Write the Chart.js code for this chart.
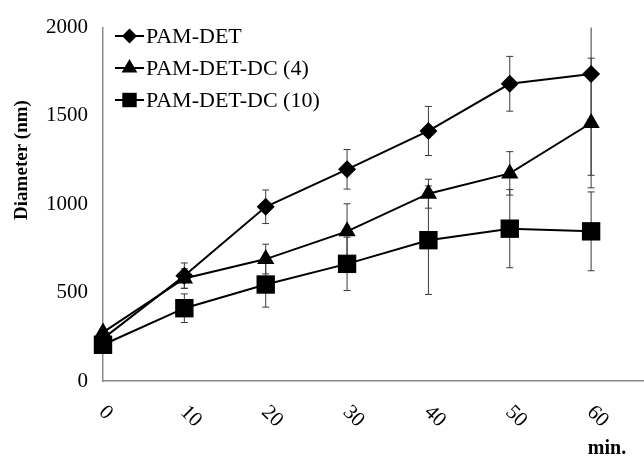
<!DOCTYPE html>
<html>
<head>
<meta charset="utf-8">
<script src="https://cdn.jsdelivr.net/npm/chart.js@4/dist/chart.umd.min.js"></script>
<style>
    html, body { margin: 0; padding: 0; background: #fff; overflow: hidden; }
    #wrap { width: 644px; height: 456px; position: relative; }
    #sizeChart { display: block; }
</style>
</head>
<body>
<div id="wrap"><canvas id="sizeChart"></canvas></div>
<script>
// time points (min.)
const times = [0, 10, 20, 30, 40, 50, 60];
const xTickLabels = ['0', '10', '20', '30', '40', '50', '60'];

// mean diameter (nm) and error bars
const pamDet = [240, 596, 986, 1198, 1415, 1682, 1738];
const pamDetErr = [20, 72, 95, 112, 139, 155, 574];

const pamDetDc4 = [275, 580, 690, 847, 1060, 1175, 1460];
const pamDetDc4Err = [20, 55, 84, 156, 82, 123, 367];

const pamDetDc10 = [205, 412, 546, 663, 797, 862, 847];
const pamDetDc10Err = [20, 81, 128, 151, 307, 221, 223];

const seriesNames = ['PAM-DET', 'PAM-DET-DC (4)', 'PAM-DET-DC (10)'];
const yTicks = [0, 500, 1000, 1500, 2000];

const serif = "'Liberation Serif', 'Times New Roman', serif";

function toPoints(values) {
    return values.map((v, i) => ({ x: times[i], y: v }));
}

function drawMarker(ctx, style, x, y, r) {
    ctx.beginPath();
    if (style === 'rectRot') {
        ctx.moveTo(x, y - r);
        ctx.lineTo(x + r, y);
        ctx.lineTo(x, y + r);
        ctx.lineTo(x - r, y);
    } else if (style === 'triangle') {
        ctx.moveTo(x, y - r);
        ctx.lineTo(x + r * 0.87, y + r * 0.5);
        ctx.lineTo(x - r * 0.87, y + r * 0.5);
    } else {
        ctx.rect(x - r * 0.72, y - r * 0.72, r * 1.44, r * 1.44);
    }
    ctx.closePath();
    ctx.fill();
}

const errors = [pamDetErr, pamDetDc4Err, pamDetDc10Err];

// error bars, drawn under the markers and clipped to the plot area
const errorBarPlugin = {
    id: 'errorBars',
    beforeDatasetsDraw(chart) {
        const ctx = chart.ctx;
        const area = chart.chartArea;
        const yScale = chart.scales.y;
        ctx.save();
        ctx.beginPath();
        ctx.rect(area.left - 20, area.top, area.right - area.left + 40, area.bottom - area.top);
        ctx.clip();
        ctx.strokeStyle = '#3a3a3a';
        ctx.lineWidth = 1;
        chart.data.datasets.forEach((ds, d) => {
            const meta = chart.getDatasetMeta(d);
            meta.data.forEach((pt, i) => {
                const v = ds.data[i].y;
                const e = errors[d][i];
                const top = yScale.getPixelForValue(v + e);
                const bot = yScale.getPixelForValue(v - e);
                ctx.beginPath();
                ctx.moveTo(pt.x, top);
                ctx.lineTo(pt.x, bot);
                ctx.moveTo(pt.x - 3.5, top);
                ctx.lineTo(pt.x + 3.5, top);
                ctx.moveTo(pt.x - 3.5, bot);
                ctx.lineTo(pt.x + 3.5, bot);
                ctx.stroke();
            });
        });
        ctx.restore();
    }
};

// rotated x labels, axis captions and legend
const decorPlugin = {
    id: 'decor',
    afterDraw(chart) {
        const ctx = chart.ctx;
        const xScale = chart.scales.x;
        ctx.save();
        ctx.fillStyle = '#000';

        // x tick labels turned 45 degrees clockwise
        ctx.font = '21px ' + serif;
        ctx.textAlign = 'left';
        ctx.textBaseline = 'middle';
        times.forEach((t, i) => {
            const px = xScale.getPixelForValue(t);
            ctx.save();
            ctx.translate(px - 1, 409);
            ctx.rotate(Math.PI / 4);
            ctx.fillText(xTickLabels[i], 0, 0);
            ctx.restore();
        });

        // x caption
        ctx.font = 'bold 20px ' + serif;
        ctx.textAlign = 'center';
        ctx.textBaseline = 'alphabetic';
        ctx.fillText('min.', 607, 454);

        // y caption
        ctx.save();
        ctx.translate(22, 160);
        ctx.rotate(-Math.PI / 2);
        ctx.font = 'bold 19px ' + serif;
        ctx.textAlign = 'center';
        ctx.textBaseline = 'middle';
        ctx.fillText('Diameter (nm)', 0, 0);
        ctx.restore();

        // legend
        const styles = ['rectRot', 'triangle', 'rect'];
        const sizes = [7.5, 9, 10];
        const rows = [36, 68, 100];
        ctx.font = '22px ' + serif;
        ctx.textAlign = 'left';
        ctx.textBaseline = 'middle';
        ctx.strokeStyle = '#000';
        ctx.lineWidth = 2;
        seriesNames.forEach((name, i) => {
            const y = rows[i];
            ctx.beginPath();
            ctx.moveTo(115, y);
            ctx.lineTo(144, y);
            ctx.stroke();
            drawMarker(ctx, styles[i], 129.5, y, sizes[i]);
            ctx.fillText(name, 146, y + 1);
        });
        ctx.restore();
    }
};

const ctx = document.getElementById('sizeChart').getContext('2d');
new Chart(ctx, {
    type: 'line',
    data: {
        datasets: [
            {
                label: seriesNames[0],
                data: toPoints(pamDet),
                borderColor: '#000',
                backgroundColor: '#000',
                borderWidth: 2,
                pointStyle: 'rectRot',
                pointRadius: 9,
                pointBorderWidth: 0,
                clip: false
            },
            {
                label: seriesNames[1],
                data: toPoints(pamDetDc4),
                borderColor: '#000',
                backgroundColor: '#000',
                borderWidth: 2,
                pointStyle: 'triangle',
                pointRadius: 10,
                pointBorderWidth: 0,
                clip: false
            },
            {
                label: seriesNames[2],
                data: toPoints(pamDetDc10),
                borderColor: '#000',
                backgroundColor: '#000',
                borderWidth: 2,
                pointStyle: 'rect',
                pointRadius: 13,
                pointBorderWidth: 0,
                clip: false
            }
        ]
    },
    options: {
        responsive: true,
        maintainAspectRatio: false,
        animation: false,
        layout: {
            autoPadding: false,
            padding: { left: 0, top: 22, right: 0, bottom: 75 }
        },
        plugins: {
            legend: { display: false },
            tooltip: { enabled: false }
        },
        scales: {
            x: {
                type: 'linear',
                min: 0,
                max: 66.5,
                grid: { display: false },
                border: { display: true, color: '#8c8c8c', width: 1.5 },
                ticks: { display: false },
                afterFit: (s) => { s.height = 0; }
            },
            y: {
                min: 0,
                max: 2000,
                grid: { display: false, drawTicks: false },
                border: { display: true, color: '#8c8c8c', width: 1.5 },
                afterBuildTicks: (s) => { s.ticks = yTicks.map(v => ({ value: v })); },
                ticks: {
                    padding: 15,
                    color: '#000',
                    font: { family: serif, size: 21 },
                    callback: (v) => String(v)
                },
                afterFit: (s) => { s.width = 103; }
            }
        }
    },
    plugins: [errorBarPlugin, decorPlugin]
});
</script>
</body>
</html>
